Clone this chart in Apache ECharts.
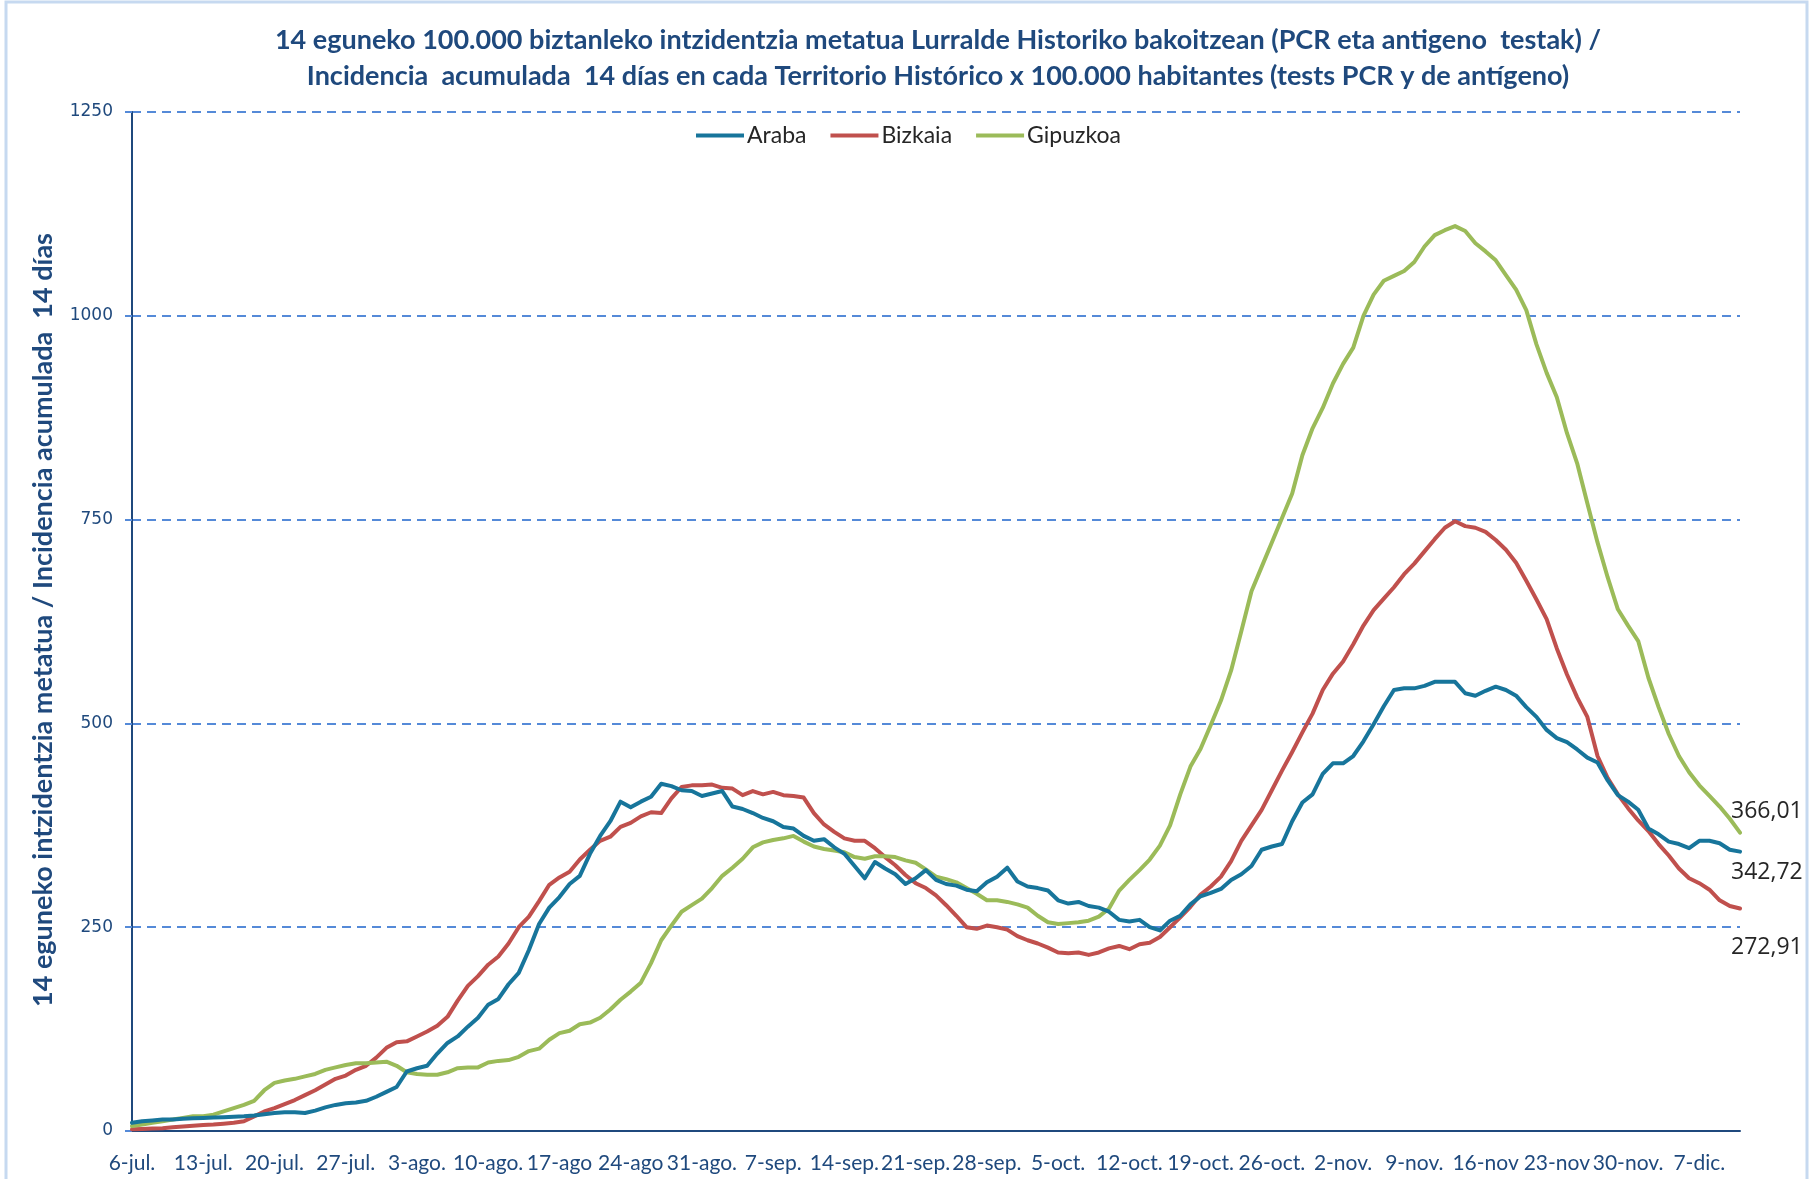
<!DOCTYPE html>
<html>
<head>
<meta charset="utf-8">
<script src="https://cdn.jsdelivr.net/npm/echarts@6/dist/echarts.min.js"></script>
<style>
html,body{margin:0;padding:0;background:#fff;}
#chart{width:1814px;height:1179px;}
</style>
</head>
<body>
<div id="chart"></div>
<script>
// Daily series, 6-jul. to 11-dic. (159 days)
const startDate = [2020, 6, 6];
const tickLabels = ["6-jul.","13-jul.","20-jul.","27-jul.","3-ago.","10-ago.","17-ago","24-ago","31-ago.","7-sep.","14-sep.","21-sep.","28-sep.","5-oct.","12-oct.","19-oct.","26-oct.","2-nov.","9-nov.","16-nov","23-nov","30-nov.","7-dic."];
const seriesNames = ["Araba","Bizkaia","Gipuzkoa"];
const yTicks = [0, 250, 500, 750, 1000, 1250];
const titleLines = [
  "14 eguneko 100.000 biztanleko intzidentzia metatua Lurralde Historiko bakoitzean (PCR eta antigeno  testak) /",
  "Incidencia  acumulada  14 días en cada Territorio Histórico x 100.000 habitantes (tests PCR y de antígeno)"
];
const yAxisTitle = "14 eguneko intzidentzia metatua / Incidencia acumulada  14 días";

const araba = [
 10, 12, 13, 14, 14, 15, 15.5, 16, 16.5, 17,
 17.5, 18, 19, 20.5, 22, 23, 23, 22, 25, 29,
 32, 34, 35, 37, 42, 48, 54, 73, 77, 80,
 95, 108, 116, 128, 139, 155, 162, 180, 194, 222,
 254, 274, 287, 303, 313, 340, 362, 380, 404, 397,
 404, 410, 426, 423, 418, 417, 411, 414, 417, 398,
 395, 390, 384, 380, 373, 371, 362, 356, 358, 348,
 340, 325, 310, 330, 322, 315, 303, 310, 320, 308,
 303, 301, 296, 294, 305, 312, 323, 306, 300, 298,
 295, 283, 279, 281, 276, 274, 269, 259, 257, 259,
 250, 246, 258, 264, 278, 288, 292, 297, 308, 315,
 325, 345, 349, 352, 380, 403, 413, 438, 451, 451,
 460, 478, 499, 521, 541, 543, 543, 546, 551, 551,
 551, 537, 534, 540, 545, 541, 534, 520, 508, 492,
 482, 477, 468, 458, 452, 430, 412, 404, 394, 371,
 364, 355, 352, 347, 356, 356, 353, 345, 342.72
];
const bizkaia = [
 2, 2.5, 3, 3.5, 4.5, 5.5, 6.5, 7.5, 8, 9,
 10, 12, 18, 24, 28, 33, 38, 44, 50, 57,
 64, 68, 75, 80, 90, 102, 109, 110, 116, 122,
 129, 140, 160, 178, 190, 204, 214, 230, 250, 263,
 282, 302, 311, 318, 333, 345, 356, 361, 373, 378,
 386, 391, 390, 408, 422, 424, 424, 425, 421, 420,
 412, 417, 413, 416, 412, 411, 409, 390, 376, 367,
 359, 356, 356, 347, 336, 326, 314, 304, 298, 289,
 277, 264, 250, 248, 252, 250, 247, 239, 234, 230,
 225, 219, 218, 219, 216, 219, 224, 227, 223, 229,
 231, 238, 250, 262, 275, 290, 300, 312, 331, 356,
 375, 394, 418, 442, 465, 489, 512, 541, 561, 576,
 597, 620, 639, 653, 667, 683, 696, 711, 726, 740,
 748, 742, 740, 735, 725, 713, 697, 675, 652, 628,
 592, 560, 532, 508, 460, 433, 413, 396, 381, 368,
 352, 338, 322, 310, 304, 296, 283, 276, 272.91
];
const gipuzkoa = [
 6, 8, 10, 12, 14, 16, 18, 18, 20, 24,
 28, 32, 37, 50, 59, 62, 64, 67, 70, 75,
 78, 81, 83, 83, 84, 85, 80, 72, 70, 69,
 69, 72, 77, 78, 78, 84, 86, 87, 91, 98,
 101, 112, 120, 123, 131, 133, 139, 149, 161, 171,
 182, 206, 234, 252, 269, 277, 285, 298, 313, 323,
 334, 348, 354, 357, 359, 362, 355, 349, 346, 344,
 342, 336, 334, 337, 337, 336, 332, 329, 321, 312,
 309, 305, 298, 291, 283, 283, 281, 278, 274, 264,
 256, 254, 255, 256, 258, 263, 273, 295, 308, 320,
 333, 350, 375, 413, 447, 469, 498, 528, 565, 613,
 662, 692, 722, 752, 782, 829, 862, 887, 917, 941,
 961, 1000, 1026, 1043, 1049, 1055, 1066, 1085, 1099, 1105,
 1110, 1104, 1089, 1079, 1068, 1050, 1032, 1007, 965, 930,
 900, 856, 819, 770, 722, 679, 640, 620, 601, 556,
 520, 487, 460, 440, 424, 411, 398, 383, 366.01
];

const monthNames = ["ene.","feb.","mar.","abr.","may.","jun.","jul.","ago.","sep.","oct.","nov.","dic."];
const categories = araba.map((_, i) => {
  const d = new Date(startDate[0], startDate[1] - 1, startDate[2] + i);
  return d.getDate() + "-" + monthNames[d.getMonth()];
});

const colors = ["#17759b", "#c0504d", "#9bbb59"];
const endOffsets = [[-9, 21], [-9, 39], [-9, -21]];
const fmt = v => v.toFixed(2).replace('.', ',');
const navy = "#1f497d";
const gridBlue = "#558ad8";
const narrowFont = "Lato, 'Liberation Sans', sans-serif";

const chart = echarts.init(document.getElementById('chart'), null, {renderer: 'canvas'});
const allData = [araba, bizkaia, gipuzkoa];

chart.setOption({
  animation: false,
  backgroundColor: '#ffffff',
  legend: {
    left: 691,
    top: 119,
    itemWidth: 48,
    itemHeight: 4,
    itemGap: 24,
    icon: 'rect',
    textStyle: {fontFamily: narrowFont, fontSize: 23, color: '#262626', padding: [0, 0, 0, -2]},
    data: seriesNames
  },
  grid: {left: 132, right: 74, top: 112, bottom: 48, containLabel: false},
  xAxis: {
    type: 'category',
    data: categories,
    boundaryGap: false,
    axisLine: {show: true, lineStyle: {color: navy, width: 2}},
    axisTick: {show: false},
    axisLabel: {
      interval: 6,
      margin: 22,
      fontFamily: narrowFont,
      fontSize: 21,
      color: navy,
      formatter: (val, idx) => tickLabels[Math.round(idx / 7)] || val
    },
    splitLine: {show: false}
  },
  yAxis: {
    type: 'value',
    min: yTicks[0],
    max: yTicks[yTicks.length - 1],
    interval: 250,
    axisLine: {show: true, lineStyle: {color: navy, width: 2}},
    axisTick: {show: true, length: 7, lineStyle: {color: gridBlue, width: 2}},
    axisLabel: {
      margin: 19,
      fontFamily: "'DejaVu Sans', Verdana, sans-serif",
      fontSize: 17,
      color: navy,
      formatter: v => String(v)
    },
    splitLine: {show: true, lineStyle: {color: gridBlue, width: 2, type: [9, 6]}}
  },
  series: seriesNames.map((name, i) => ({
    name: name,
    type: 'line',
    data: allData[i],
    showSymbol: false,
    symbol: 'none',
    smooth: false,
    color: colors[i],
    lineStyle: {width: 4, color: colors[i], join: 'round', cap: 'round'},
    z: i === 0 ? 4 : 3,
    endLabel: {
      show: true,
      formatter: p => fmt(allData[i][allData[i].length - 1]),
      distance: 0,
      offset: endOffsets[i],
      fontFamily: "'Open Sans', 'Noto Sans', sans-serif",
      fontSize: 23,
      color: '#262626'
    }
  })),
  graphic: [
    {
      type: 'rect',
      shape: {x: 6, y: 2, width: 1801, height: 1190},
      style: {fill: 'none', stroke: '#c6d9f0', lineWidth: 3},
      silent: true
    },
    {
      type: 'text',
      x: 938,
      y: 40,
      style: {
        text: titleLines[0],
        fontFamily: narrowFont, fontWeight: 'bold', fontSize: 27, fill: navy,
        textAlign: 'center', textVerticalAlign: 'middle'
      }
    },
    {
      type: 'text',
      x: 938,
      y: 76,
      style: {
        text: titleLines[1],
        fontFamily: narrowFont, fontWeight: 'bold', fontSize: 27, fill: navy,
        textAlign: 'center', textVerticalAlign: 'middle'
      }
    },
    {
      type: 'text',
      x: 43,
      y: 620,
      rotation: Math.PI / 2,
      style: {
        text: yAxisTitle,
        fontFamily: narrowFont,
        fontWeight: 'bold',
        fontSize: 27,
        fill: navy,
        textAlign: 'center',
        textVerticalAlign: 'middle'
      }
    }
  ]
});
</script>
</body>
</html>
